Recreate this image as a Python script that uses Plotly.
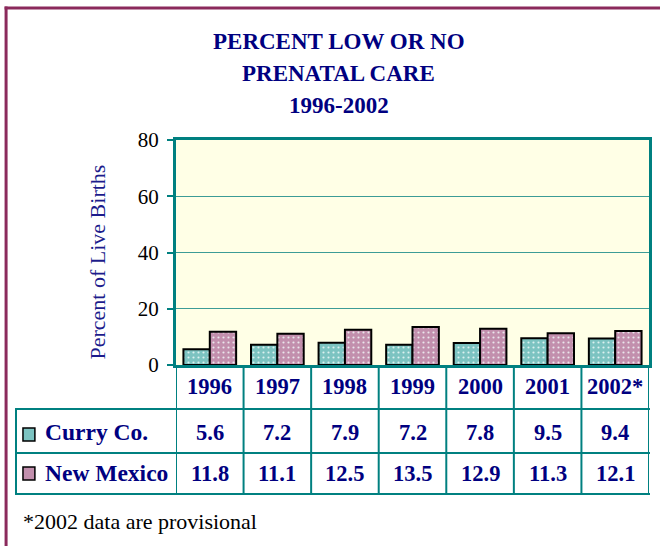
import plotly.graph_objects as go

# ---- data ----
years = ["1996", "1997", "1998", "1999", "2000", "2001", "2002*"]
curry = [5.6, 7.2, 7.9, 7.2, 7.8, 9.5, 9.4]
new_mexico = [11.8, 11.1, 12.5, 13.5, 12.9, 11.3, 12.1]
series_names = ["Curry Co.", "New Mexico"]
y_ticks = [0, 20, 40, 60, 80]

# ---- geometry helpers (pixel -> paper) ----
W, H = 660, 546
L, R, T, B = 176, 8, 140, 181
PW, PH = W - L - R, H - T - B


def px(x):
    return (x - L) / PW


def py(y):
    return (H - B - y) / PH


NAVY = "#000080"
TEAL = "#008080"
SERIF = "Liberation Serif, Times New Roman, serif"
COLORS = ["#7cc3c1", "#c28fad"]

fig = go.Figure()
for name, vals, col in zip(series_names, [curry, new_mexico], COLORS):
    fig.add_trace(go.Bar(
        x=years, y=vals, name=name,
        marker=dict(color=col, line=dict(color="black", width=2),
                    pattern=dict(shape=".", fgcolor="#f4fbfb", fgopacity=0.8,
                                 size=5, solidity=0.15)),
        showlegend=False,
    ))

ann = []
# title
for txt, yy in [("PERCENT LOW OR NO", 41), ("PRENATAL CARE", 73), ("1996-2002", 105)]:
    ann.append(dict(text=f"<b>{txt}</b>", x=px(340), y=py(yy), xref="paper", yref="paper",
                    xanchor="center", yanchor="middle", showarrow=False,
                    font=dict(family=SERIF, size=23, color=NAVY)))
# y title
ann.append(dict(text="Percent of Live Births", x=px(97), y=py(262), xref="paper", yref="paper",
                textangle=-90, xanchor="center", yanchor="middle", showarrow=False,
                font=dict(family=SERIF, size=22, color="#1c1c8c")))
# table rows (x positions through the category axis, by index)
cell_font = dict(family=SERIF, size=22.5, color=NAVY)
for i, yr in enumerate(years):
    ann.append(dict(text=f"<b>{yr}</b>", x=i, y=py(386), xref="x", yref="paper",
                    xanchor="center", yanchor="middle", showarrow=False, font=cell_font))
for row_y, vals in [(432, curry), (473, new_mexico)]:
    for i, v in enumerate(vals):
        ann.append(dict(text=f"<b>{v:.1f}</b>", x=i, y=py(row_y), xref="x", yref="paper",
                        xanchor="center", yanchor="middle", showarrow=False, font=cell_font))
for name, row_y in zip(series_names, [432, 473]):
    ann.append(dict(text=f"<b>{name}</b>", x=px(42), y=py(row_y), xref="paper", yref="paper",
                    xanchor="left", yanchor="middle", showarrow=False,
                    font=dict(family=SERIF, size=23.5, color=NAVY)))
# footnote
ann.append(dict(text="*2002 data are provisional", x=px(20), y=py(521), xref="paper", yref="paper",
                xanchor="left", yanchor="middle", showarrow=False,
                font=dict(family=SERIF, size=22, color="black")))

shapes = []
# outer maroon frame (left and top edges)
MAROON = "#8b2a5c"
shapes.append(dict(type="line", xref="paper", yref="paper", x0=px(5), x1=px(5), y0=py(6.5), y1=py(560),
                   line=dict(color=MAROON, width=3)))
shapes.append(dict(type="line", xref="paper", yref="paper", x0=px(3.5), x1=px(680), y0=py(8), y1=py(8),
                   line=dict(color=MAROON, width=3)))
# table grid
for k in range(len(years) + 1):
    shapes.append(dict(type="line", xref="x", yref="paper", x0=k - 0.5, x1=k - 0.5,
                       y0=0, y1=py(494), line=dict(color=TEAL, width=2)))
shapes.append(dict(type="line", xref="paper", yref="paper", x0=px(15), x1=px(15),
                   y0=py(409), y1=py(494), line=dict(color=TEAL, width=2)))
for yy in [409, 453, 494]:
    shapes.append(dict(type="line", xref="paper", yref="paper", x0=px(14), x1=px(653),
                       y0=py(yy), y1=py(yy), line=dict(color=TEAL, width=2)))
# legend swatches
for col, (y0, y1) in zip(COLORS, [(428, 441), (467, 480)]):
    shapes.append(dict(type="rect", xref="paper", yref="paper", x0=px(22), x1=px(34),
                       y0=py(y1), y1=py(y0), fillcolor=col, line=dict(color="black", width=1.5)))

fig.update_layout(
    width=W, height=H,
    margin=dict(l=L, r=R, t=T, b=B, pad=0),
    paper_bgcolor="white", plot_bgcolor="#ffffe6",
    barmode="group", bargap=0.22, bargroupgap=0,
    annotations=ann, shapes=shapes,
    xaxis=dict(type="category", range=[-0.5, len(years) - 0.5], showticklabels=False,
               showgrid=False, showline=True, linecolor=TEAL, linewidth=3, mirror=True,
               ticks=""),
    yaxis=dict(range=[0, 80], tickvals=y_ticks, showgrid=True, gridcolor="#3c9c96", gridwidth=1,
               showline=True, linecolor=TEAL, linewidth=3, mirror=True,
               ticks="outside", ticklen=6, tickcolor=TEAL, tickwidth=2,
               ticklabelstandoff=4, zeroline=False,
               tickfont=dict(family=SERIF, size=21, color="black")),
)

fig.write_html("out.html", config={"displayModeBar": False},
               post_script="document.body.style.margin='0';document.body.style.overflow='hidden';")
